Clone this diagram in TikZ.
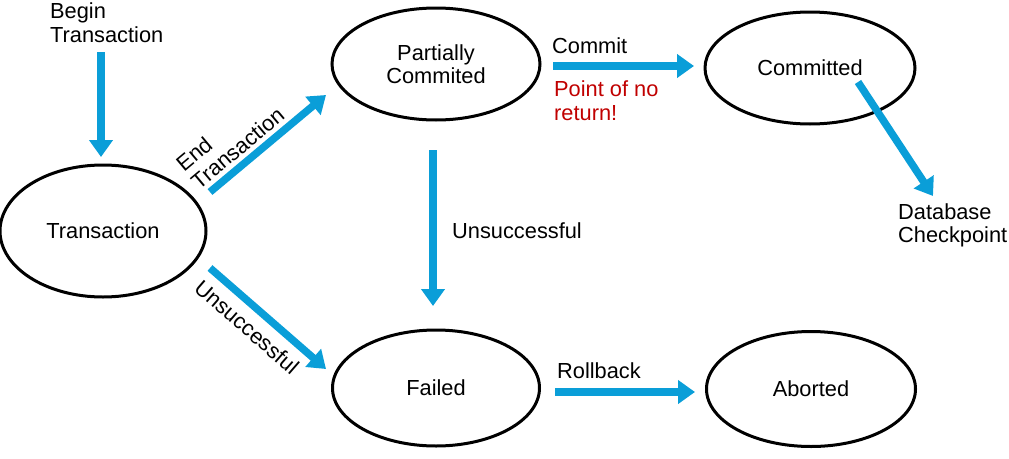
\documentclass[tikz,border=0pt]{standalone}
\usepackage{fontspec}
\setmainfont{Liberation Sans}
\usetikzlibrary{shapes.geometric,arrows.meta}
\definecolor{flowblue}{RGB}{10,158,216}
\definecolor{darkred}{RGB}{192,0,0}
\tikzset{
  state/.style={draw=black,line width=3pt,ellipse,inner sep=0pt},
  flow/.style={draw=flowblue,line width=7.5pt,-{Triangle[width=23pt,length=17pt]}},
  lbl/.style={font=\fontsize{21.8}{23.5}\selectfont,inner sep=0pt},
}
\begin{document}
\begin{tikzpicture}[x=1pt,y=-1pt]
\useasboundingbox (0,0) rectangle (1009,458);
% states
\node[state,minimum width=206pt,minimum height=132pt,lbl] (tr) at (103,231) {Transaction};
\node[state,minimum width=208pt,minimum height=112pt,lbl,align=center] (pc) at (436,64) {Partially\\Commited};
\node[state,minimum width=210pt,minimum height=112pt,lbl] (cm) at (810,68) {Committed};
\node[state,minimum width=207pt,minimum height=116pt,lbl] (fa) at (436,388) {Failed};
\node[state,minimum width=209pt,minimum height=115pt,lbl] (ab) at (811,389) {Aborted};
% free ends
\coordinate (b0) at (101,52);
\coordinate (b1) at (101,157);
\coordinate (e0) at (210,192);
\coordinate (e1) at (326,95);
\coordinate (u0) at (210,268);
\coordinate (u1) at (326,369);
\coordinate (v0) at (433,150);
\coordinate (v1) at (433,306);
\coordinate (c0) at (553,66);
\coordinate (c1) at (694,66);
\coordinate (d0) at (858,82);
\coordinate (d1) at (933,196);
\coordinate (r0) at (555,392);
\coordinate (r1) at (695,392);
% arrows
\draw[flow] (b0) -- (b1);
\draw[flow] (e0) -- (e1);
\draw[flow] (u0) -- (u1);
\draw[flow] (v0) -- (v1);
\draw[flow] (c0) -- (c1);
\draw[flow] (d0) -- (d1);
\draw[flow] (r0) -- (r1);
% labels
\node[lbl,align=left,anchor=north west] (lbegin) at (50,3) {Begin\\Transaction};
\node[lbl,align=left,rotate=40] (lend) at (230,139) {End\\Transaction};
\node[lbl,rotate=-41] (lun1) at (247,327) {Unsuccessful};
\node[lbl,anchor=west] (lun2) at (452,231) {Unsuccessful};
\node[lbl,anchor=west] (lcommit) at (552,46) {Commit};
\node[lbl,align=left,anchor=north west,text=darkred] (lpoint) at (554,81) {Point of no\\return!};
\node[lbl,align=left,anchor=north west] (ldb) at (898,203) {Database\\Checkpoint};
\node[lbl,anchor=west] (lroll) at (557,371) {Rollback};
\end{tikzpicture}
\end{document}
